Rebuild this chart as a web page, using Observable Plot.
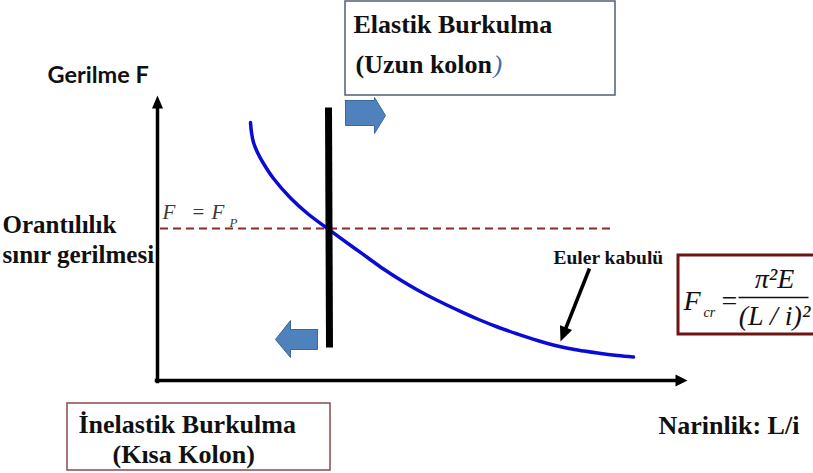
<!DOCTYPE html>
<html>
<head>
<meta charset="utf-8">
<script src="https://cdn.jsdelivr.net/npm/d3@7"></script>
<script src="https://cdn.jsdelivr.net/npm/@observablehq/plot@0.6"></script>
<style>
  html, body { margin: 0; padding: 0; background: #fff; }
  svg { display: block; }
</style>
</head>
<body>
<div id="chart"></div>
<script>
// Euler curve: slenderness (L/i) vs stress (F), in diagram units (origin at axes corner)
const curveLi = [93, 94, 96, 100, 106, 116, 133, 150, 170, 196, 210, 226, 243, 260, 280, 300, 320, 340, 360, 380, 400, 420, 440, 460, 476];
const curveF  = [258, 248, 238, 228, 217, 202, 182.5, 167, 152, 133, 123, 111.5, 100.5, 90.5, 80, 70.5, 61.5, 53.5, 46.5, 40, 34.5, 30.5, 27.5, 25, 23.5];

// proportional limit stress level and its dashed line extent
const fpLevel = 152;
const fpExtent = [3, 456];

// boundary between inelastic and elastic buckling (thick bar)
const boundaryLi = [171, 172];
const boundaryF = [273, 33];

// axes extents
const xAxisEnd = 530;
const yAxisEnd = 285;

// block arrows (polygon vertices)
const rightArrowLi = [188, 217, 217, 228, 217, 217, 188, 188];
const rightArrowF  = [280, 280, 283, 265, 247, 255, 255, 280];
const leftArrowLi  = [160, 133, 133, 118, 133, 133, 160, 160];
const leftArrowF   = [51, 51, 60, 41, 23, 31, 31, 51];

// Euler annotation arrow
const eulerArrowFrom = [432, 112];
const eulerArrowTo = [403, 39];

// boxes
const boxNames = ["elastic", "inelastic", "formula"];
const boxX1 = [188, -90, 521];
const boxX2 = [458, 173, 680];
const boxY1 = [379, -23, 125];
const boxY2 = [285, -90, 46];
const boxStroke = ["#4f5f70", "#8b4a4a", "#6e1414"];
const boxWidth = [1.5, 1.5, 3];

// labels
const labelTexts = ["Elastik Burkulma", "(Uzun kolon", "Orantılılık", "sınır gerilmesi", "Euler kabulü", "İnelastik Burkulma", "(Kısa Kolon)", "Narinlik: L/i"];
const labelX = [196, 198, -155, -155, 396, -79, -45, 501];
const labelY = [356, 316, 156, 126, 123, -44, -74, -45];
const labelSize = [26, 26, 25, 25, 19.5, 26, 26, 26];

// build tables
const curve = curveLi.map((x, i) => ({x, y: curveF[i]}));
const polys = [
  ...rightArrowLi.map((x, i) => ({id: "r", x, y: rightArrowF[i]})),
  ...leftArrowLi.map((x, i) => ({id: "l", x, y: leftArrowF[i]}))
];
function head(from, to, len, w, id) {
  const dx = to[0] - from[0], dy = to[1] - from[1];
  const d = Math.hypot(dx, dy), ux = dx / d, uy = dy / d;
  const bx = to[0] - len * ux, by = to[1] - len * uy;
  return [
    {id, x: to[0], y: to[1]},
    {id, x: bx - w * uy, y: by + w * ux},
    {id, x: bx + w * uy, y: by - w * ux}
  ];
}
const heads = [
  ...head([0, 0], [0, yAxisEnd], 13, 5.5, "ya"),
  ...head([0, 0], [xAxisEnd, 0], 12, 6, "xa"),
  ...head(eulerArrowFrom, eulerArrowTo, 15, 6.5, "eu")
];
const boxes = boxNames.map((n, i) => ({n, x1: boxX1[i], x2: boxX2[i], y1: boxY1[i], y2: boxY2[i], s: boxStroke[i], w: boxWidth[i]}));
const labels = labelTexts.map((t, i) => ({t, x: labelX[i], y: labelY[i], s: labelSize[i]}));

const serif = "'Liberation Serif', 'Times New Roman', serif";

const chart = Plot.plot({
  width: 813,
  height: 473,
  margin: 0,
  x: {domain: [-157, 656], range: [0, 813], axis: null},
  y: {domain: [-93, 380], range: [473, 0], axis: null},
  style: {background: "#fff", fontFamily: serif},
  marks: [
    // boxes
    ...boxes.map(b => Plot.rect([b], {x1: "x1", x2: "x2", y1: "y1", y2: "y2", fill: "#fff", stroke: b.s, strokeWidth: b.w})),
    // axes
    Plot.link([{x1: 0, y1: -1, x2: 0, y2: yAxisEnd - 12}], {x1: "x1", y1: "y1", x2: "x2", y2: "y2", stroke: "#000", strokeWidth: 3.5, strokeLinecap: "square"}),
    Plot.link([{x1: -1, y1: 0, x2: xAxisEnd - 11, y2: 0}], {x1: "x1", y1: "y1", x2: "x2", y2: "y2", stroke: "#000", strokeWidth: 3.5, strokeLinecap: "square"}),
    // proportional limit dashed line
    Plot.ruleY([fpLevel], {x1: fpExtent[0], x2: fpExtent[1], stroke: "#8b2b2b", strokeWidth: 2, strokeDasharray: "8,5"}),
    // Euler curve
    Plot.line(curve, {x: "x", y: "y", curve: "catmull-rom", stroke: "#0b0bd6", strokeWidth: 3.5}),
    // boundary bar
    Plot.link([{x1: boundaryLi[0], y1: boundaryF[0], x2: boundaryLi[1], y2: boundaryF[1]}], {x1: "x1", y1: "y1", x2: "x2", y2: "y2", stroke: "#000", strokeWidth: 7}),
    // block arrows
    Plot.line(polys, {x: "x", y: "y", z: "id", fill: "#4f81bd", stroke: "#3b679c", strokeWidth: 1, curve: "linear-closed"}),
    // Euler arrow line
    Plot.link([{x1: eulerArrowFrom[0], y1: eulerArrowFrom[1], x2: eulerArrowTo[0] + 4, y2: eulerArrowTo[1] + 10}], {x1: "x1", y1: "y1", x2: "x2", y2: "y2", stroke: "#000", strokeWidth: 3.5}),
    // arrow heads
    Plot.line(heads, {x: "x", y: "y", z: "id", fill: "#000", stroke: "none", curve: "linear-closed"}),
    // labels
    Plot.text(labels, {x: "x", y: "y", text: "t", fontSize: "s", textAnchor: "start", fontWeight: "bold", fill: "#111", fontFamily: serif}),
    Plot.text([")"], {x: 336, y: 316, textAnchor: "start", fontSize: 26, fontStyle: "italic", fill: "#4a6aa5", fontFamily: serif}),
    Plot.text(["Gerilme F"], {x: -110, y: 305, textAnchor: "start", fontSize: 23.5, fontWeight: "bold", fontFamily: "Lato, sans-serif", fill: "#111"}),
    // F = F_P
    Plot.text(["F"], {x: 5, y: 168, textAnchor: "start", fontSize: 21, fontStyle: "italic", fill: "#3a3a3a", fontFamily: serif}),
    Plot.text(["="], {x: 41, y: 168, textAnchor: "middle", fontSize: 21, fill: "#3a3a3a", fontFamily: serif}),
    Plot.text(["F"], {x: 54, y: 168, textAnchor: "start", fontSize: 21, fontStyle: "italic", fill: "#3a3a3a", fontFamily: serif}),
    Plot.text(["P"], {x: 72, y: 158, textAnchor: "start", fontSize: 13, fontStyle: "italic", fill: "#3a3a3a", fontFamily: serif}),
    // formula
    Plot.text(["F"], {x: 526, y: 79, textAnchor: "start", fontSize: 28, fontStyle: "italic", fill: "#111", fontFamily: serif}),
    Plot.text(["cr"], {x: 546, y: 68, textAnchor: "start", fontSize: 14, fontStyle: "italic", fill: "#111", fontFamily: serif}),
    Plot.text(["="], {x: 572, y: 79, textAnchor: "middle", fontSize: 28, fill: "#111", fontFamily: serif}),
    Plot.link([{x1: 581, y1: 83, x2: 651, y2: 83}], {x1: "x1", y1: "y1", x2: "x2", y2: "y2", stroke: "#111", strokeWidth: 1.5}),
    Plot.text(["π²E"], {x: 617, y: 101, textAnchor: "middle", fontSize: 28, fontStyle: "italic", fill: "#111", fontFamily: serif}),
    Plot.text(["(L / i)²"], {x: 617, y: 64, textAnchor: "middle", fontSize: 28, fontStyle: "italic", fill: "#111", fontFamily: serif})
  ]
});
document.getElementById("chart").appendChild(chart);
</script>
</body>
</html>
